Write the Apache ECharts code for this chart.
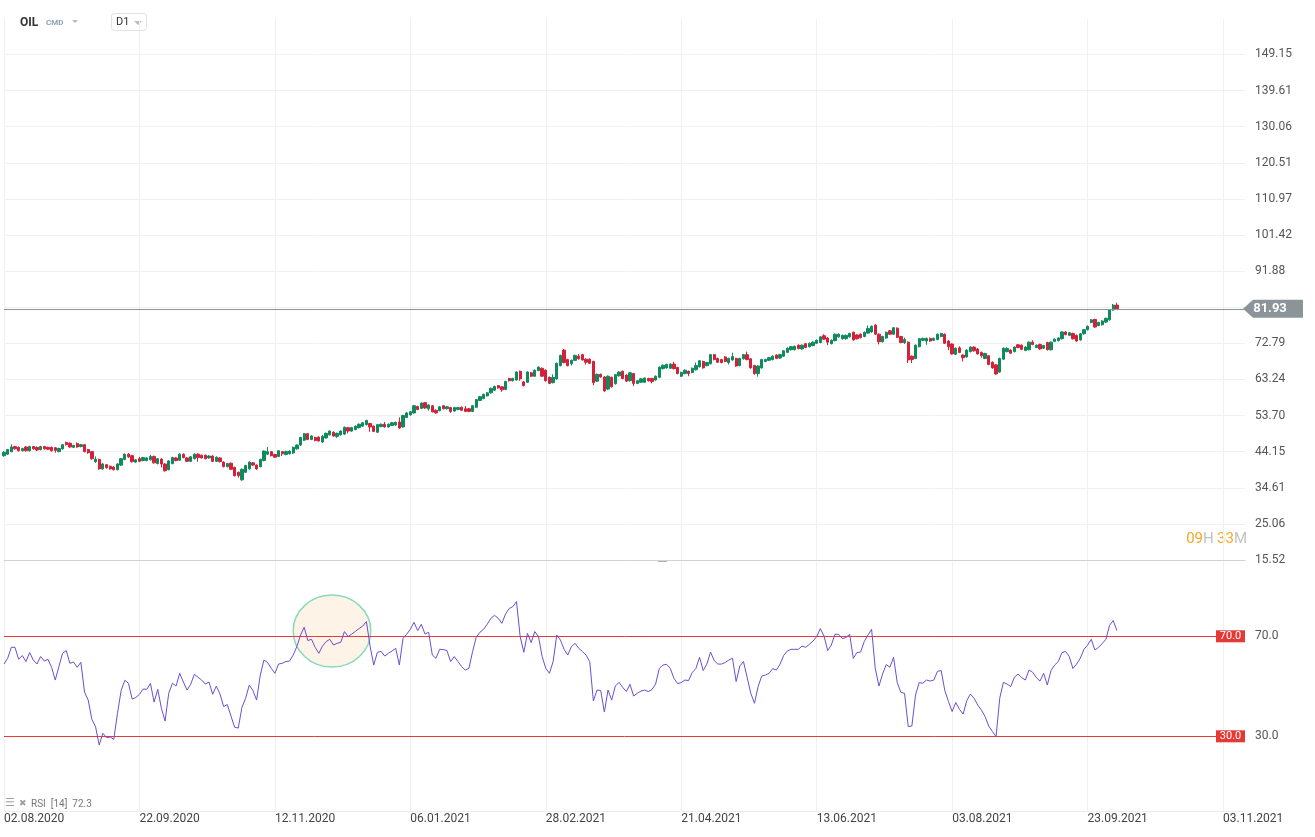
<!DOCTYPE html>
<html>
<head>
<meta charset="utf-8">
<title>OIL D1</title>
<script src="https://cdn.jsdelivr.net/npm/echarts@6/dist/echarts.min.js"></script>
<style>
  html, body { margin: 0; padding: 0; background: #fff; }
  #chart { width: 1315px; height: 837px; }
</style>
</head>
<body>
<div id="chart"></div>
<script>
// x axis: one slot per trading bar, a date label every 37 bars
const tickLabels = ["02.08.2020", "22.09.2020", "12.11.2020", "06.01.2021", "28.02.2021",
  "21.04.2021", "13.06.2021", "03.08.2021", "23.09.2021", "03.11.2021"];
const barsPerTick = 37;
const slotCount = 340;

// price pane
const priceTicks = [15.52, 25.06, 34.61, 44.15, 53.70, 63.24, 72.79, 82.33, 91.88,
  101.42, 110.97, 120.51, 130.06, 139.61, 149.15];
const priceMin = 15.52;
const priceMax = 158.52;
const lastPrice = 81.93;

// daily candles [open, close, low, high]
const candles = [
  [43.1,44.0,42.8,44.3],[43.5,44.7,43.3,44.9],[44.15,45.4,44.0,46.1],[45.5,44.9,44.7,45.7],[45.3,44.4,44.2,45.5],
  [44.4,45.0,44.2,45.2],[45.4,44.4,44.2,45.6],[44.4,45.5,44.2,45.7],[45.5,44.9,44.7,45.7],[45.3,44.6,44.3,45.5],
  [44.7,45.5,44.5,45.7],[45.5,44.9,44.7,45.7],[45.3,44.8,44.6,45.5],[45.3,44.4,44.2,45.5],[45.2,44.5,43.9,45.4],
  [44.15,45.0,44.0,45.2],[44.9,46.0,44.7,46.2],[46.6,46.0,45.8,46.8],[46.4,45.4,45.2,46.6],[45.3,45.8,45.1,46.0],
  [46.3,45.4,45.2,46.6],[45.5,46.0,45.3,46.2],[46.0,44.15,44.0,46.2],[44.7,43.9,43.6,44.9],[44.15,42.3,42.0,44.3],
  [41.5,42.2,41.2,42.9],[42.1,39.6,39.4,42.3],[39.6,40.9,39.4,41.2],[40.7,39.9,39.7,40.9],[40.3,39.6,39.4,40.5],
  [40.1,39.4,39.2,40.3],[39.4,40.9,39.2,41.1],[40.6,42.3,40.4,42.5],[42.1,43.5,41.9,43.7],[43.5,42.8,42.5,43.8],
  [43.1,41.5,41.3,43.3],[41.4,42.0,41.2,42.2],[42.3,41.6,41.4,42.8],[41.8,42.6,41.6,42.8],[41.8,42.5,41.6,42.7],
  [42.0,42.9,41.8,43.3],[42.9,41.2,41.0,43.1],[41.0,42.3,40.8,42.5],[42.2,40.9,40.0,42.4],[40.9,39.1,38.9,41.1],
  [39.4,41.7,39.2,41.9],[41.0,42.6,40.8,42.8],[42.5,41.8,41.6,42.7],[41.9,43.5,41.7,43.7],[43.5,42.6,42.4,43.7],
  [42.5,41.6,41.4,42.7],[41.6,42.8,41.4,43.0],[42.3,43.5,42.1,43.7],[43.5,42.6,41.5,43.7],[43.2,42.5,42.3,43.4],
  [43.2,42.3,42.1,43.4],[42.5,43.0,42.3,43.2],[43.0,41.6,41.4,43.2],[41.6,42.7,41.4,42.9],[42.5,41.5,41.3,42.7],
  [41.4,40.2,40.0,41.6],[40.2,41.0,40.0,41.2],[41.1,39.5,39.3,41.3],[40.0,37.8,37.6,40.2],[38.7,37.8,37.3,38.9],
  [36.7,39.5,36.5,39.7],[38.7,40.5,38.5,40.7],[39.6,41.4,39.4,41.6],[41.2,40.6,40.4,41.4],[40.6,39.6,39.4,40.8],
  [40.2,42.1,40.0,42.3],[41.8,44.3,41.6,44.5],[43.5,44.15,43.3,45.4],[44.15,43.1,42.9,44.3],[43.4,42.7,42.5,43.6],
  [42.9,44.4,42.7,44.6],[44.15,43.6,43.0,44.3],[43.4,44.2,43.2,44.4],[43.6,44.3,43.4,44.5],[43.8,45.3,43.6,45.5],
  [44.9,45.9,44.7,46.1],[45.9,47.9,45.7,48.1],[47.2,48.9,47.0,49.1],[48.9,47.4,47.2,49.1],[47.4,48.3,47.2,48.5],
  [47.9,47.1,46.9,48.1],[48.0,47.0,46.8,48.2],[46.7,48.2,46.5,48.6],[47.8,49.0,47.6,49.2],[48.6,49.6,48.4,49.8],
  [49.3,48.3,48.1,49.5],[48.2,49.0,47.8,49.2],[48.6,49.6,48.4,49.8],[48.8,50.6,48.6,50.8],[50.5,49.6,49.0,50.7],
  [49.6,50.5,49.4,50.7],[50.0,50.9,49.8,51.1],[50.5,51.4,50.3,51.6],[50.9,51.8,50.7,52.0],[51.3,52.4,51.1,52.6],
  [51.6,50.7,49.4,51.8],[50.9,49.5,49.3,51.1],[49.3,51.3,49.1,51.5],[50.8,51.4,50.6,51.6],[51.4,50.7,50.5,52.0],
  [50.7,51.4,50.5,51.6],[51.1,51.8,50.9,52.0],[51.2,51.9,51.0,52.1],[52.0,50.4,50.2,53.2],[50.7,53.7,50.5,53.9],
  [53.2,54.4,53.0,54.6],[53.9,54.7,53.7,54.9],[54.4,56.3,54.2,56.5],[56.1,55.3,55.1,56.3],[55.6,57.0,55.4,57.2],
  [57.1,55.7,55.5,57.3],[55.5,56.5,55.0,56.7],[56.3,54.7,54.5,56.5],[55.1,54.4,54.2,55.3],[55.0,56.0,54.8,56.2],
  [56.3,55.5,55.3,56.5],[55.5,56.0,55.3,56.2],[55.8,54.8,54.4,56.0],[54.9,55.8,54.7,56.0],[55.3,55.8,55.1,56.0],
  [55.9,55.1,54.9,56.1],[55.5,54.8,54.6,56.2],[55.5,54.8,54.6,55.7],[54.8,56.3,54.6,56.5],[55.9,57.9,55.7,58.1],
  [57.7,58.7,57.5,58.9],[58.2,59.3,58.0,59.5],[58.9,59.7,58.7,59.9],[59.7,60.9,59.5,61.1],[60.4,61.4,60.2,61.6],
  [61.6,61.0,60.8,61.8],[61.3,60.5,60.0,61.5],[60.6,62.7,60.4,62.9],[63.5,62.9,62.7,63.7],[62.9,63.5,62.7,63.7],
  [63.1,65.2,62.9,65.4],[65.4,63.4,62.9,65.6],[62.6,61.6,61.4,62.8],[62.5,65.2,62.3,65.4],[65.0,64.1,63.9,65.2],
  [64.1,65.7,63.9,65.9],[65.6,66.5,65.4,66.7],[66.2,64.1,63.9,66.4],[65.7,62.9,62.7,65.9],[63.8,62.2,62.0,64.0],
  [62.4,63.8,62.2,64.6],[63.4,67.5,63.2,67.7],[66.9,69.6,66.7,69.8],[71.0,67.7,67.5,71.3],[68.5,66.9,66.7,68.7],
  [67.4,68.3,66.9,68.5],[68.3,69.6,68.1,69.8],[69.4,68.7,68.5,70.0],[69.8,68.4,68.2,70.0],[68.6,67.8,67.2,68.8],
  [68.6,67.5,67.3,68.8],[68.0,62.4,61.7,68.2],[62.8,64.6,62.6,64.8],[64.6,63.9,63.7,64.8],[63.9,60.2,60.0,64.1],
  [60.7,64.1,60.4,64.3],[63.8,61.3,61.1,64.0],[62.1,64.5,61.9,64.7],[64.2,65.2,64.0,65.4],[65.4,63.5,63.3,65.6],
  [64.4,62.8,62.6,64.6],[62.9,65.0,62.7,65.2],[64.8,62.2,61.5,65.0],[62.2,62.9,62.0,63.1],[62.5,63.4,62.3,63.6],
  [62.5,63.6,62.3,63.8],[63.5,62.9,62.7,63.7],[63.5,62.7,62.2,63.7],[63.1,64.1,62.9,64.3],[63.8,66.5,63.6,66.7],
  [66.1,67.0,65.9,67.2],[66.3,67.2,66.1,67.4],[66.2,67.3,66.0,67.5],[67.3,66.1,65.9,67.9],[66.4,64.8,64.6,66.6],
  [64.1,65.1,63.9,65.3],[64.8,65.7,64.6,65.9],[65.4,64.8,64.1,65.6],[65.1,66.2,64.9,66.4],[65.8,66.9,65.6,67.7],
  [66.6,68.2,66.4,68.4],[68.0,66.3,66.1,68.2],[66.9,67.7,66.7,67.9],[67.4,69.8,67.2,70.0],[69.8,68.5,68.3,70.0],
  [68.8,67.8,67.6,69.0],[68.5,67.7,67.5,68.7],[69.2,68.0,67.8,69.4],[67.7,68.8,67.2,69.0],[68.4,69.3,68.2,70.3],
  [68.8,66.8,66.6,69.0],[66.9,68.8,66.7,69.0],[68.7,69.8,68.5,70.0],[69.8,68.5,68.3,70.6],[68.7,66.3,66.1,68.9],
  [66.9,64.8,64.5,67.1],[64.8,66.8,64.0,67.0],[66.3,68.5,66.1,68.7],[68.0,68.5,67.8,68.7],[68.3,69.0,68.1,69.2],
  [68.5,69.4,68.3,69.6],[69.7,68.8,68.6,69.9],[68.9,69.8,68.7,70.0],[69.4,70.8,69.2,71.0],[70.4,71.5,70.2,71.7],
  [71.1,71.9,70.9,72.1],[71.1,72.0,70.9,72.2],[72.3,71.4,71.2,72.5],[71.3,72.3,71.1,72.5],[72.7,71.7,71.5,72.9],
  [71.9,72.8,71.7,73.0],[72.2,73.1,72.0,73.3],[72.8,73.6,72.6,73.8],[73.0,74.5,72.8,74.7],[74.8,73.9,73.7,75.2],
  [74.2,73.1,72.3,74.4],[72.7,73.6,72.5,73.8],[73.5,75.2,73.3,75.4],[74.5,75.2,74.3,75.4],[74.0,74.9,73.8,75.1],
  [74.0,74.9,73.8,75.1],[74.5,75.4,74.3,75.6],[75.7,73.7,73.5,75.9],[75.0,74.0,73.8,75.2],[75.2,74.3,74.1,75.4],
  [74.6,75.7,74.4,75.9],[75.5,76.7,75.3,77.5],[75.8,77.3,75.6,77.5],[77.6,75.2,75.0,77.9],[75.2,73.2,72.5,75.4],
  [73.2,74.6,73.0,74.8],[74.2,75.7,74.0,75.9],[76.1,75.2,75.0,76.3],[75.2,76.9,75.0,77.1],[76.8,74.4,74.2,77.0],
  [74.6,73.0,72.8,74.8],[73.0,73.8,72.6,74.3],[73.1,68.4,67.6,73.3],[69.4,68.5,67.6,69.6],[68.8,72.3,68.6,72.5],
  [71.9,74.0,71.7,74.2],[73.6,74.1,73.4,74.3],[73.4,74.1,72.4,74.3],[74.1,73.4,73.2,74.3],[73.6,74.1,73.4,74.3],
  [73.8,75.2,73.6,75.4],[74.6,75.4,74.4,75.6],[75.2,72.8,72.6,75.4],[73.4,71.9,71.0,73.6],[72.6,70.0,69.8,72.8],
  [69.9,71.5,69.7,71.7],[71.6,70.4,70.2,72.0],[69.7,69.0,68.0,69.9],[69.2,71.0,69.0,71.2],[70.6,71.8,70.4,72.0],
  [71.8,70.8,70.6,72.0],[71.3,70.0,69.8,71.5],[70.4,69.5,69.0,70.6],[68.8,70.1,68.6,70.3],[69.5,67.2,67.0,69.7],
  [67.8,66.3,66.1,68.0],[67.1,64.7,64.5,67.3],[65.2,68.8,65.0,69.0],[68.6,71.5,68.4,71.7],[70.6,71.4,70.4,71.8],
  [71.0,70.2,70.0,71.2],[70.6,71.8,70.4,72.0],[72.4,71.7,71.5,72.6],[72.3,71.2,71.0,72.5],[70.9,71.8,70.7,72.0],
  [71.1,73.1,70.9,73.3],[73.1,72.5,72.3,73.6],[71.7,72.3,71.5,72.5],[72.5,71.3,71.1,72.7],[71.5,72.2,71.3,72.4],
  [73.0,71.1,70.9,73.2],[71.1,73.1,70.9,73.3],[73.3,73.9,73.1,74.1],[73.5,74.2,73.3,74.4],[74.0,75.8,73.8,76.0],
  [75.8,75.1,74.9,76.0],[74.9,75.6,74.7,75.8],[75.4,74.0,73.8,75.6],[74.9,73.4,73.2,75.1],[73.7,75.3,73.5,75.5],
  [75.3,76.4,75.1,76.6],[76.4,77.3,76.2,77.5],[78.3,79.0,78.1,79.2],[79.1,77.1,76.9,79.3],[77.5,78.3,77.3,78.5],
  [77.7,78.7,77.5,78.9],[78.4,79.4,78.2,79.6],[79.0,81.6,78.8,81.8],[81.6,82.9,81.4,83.2],[82.9,81.93,81.7,83.5]
];

// RSI(14) pane
const rsiLevels = [70, 30];
const rsiLast = 72.3;
const rsi = [
  58.9,61.2,65.6,65.6,60.8,62.3,59.9,63.5,60.5,58.9,61.9,60.1,60.8,57.6,52.5,57.9,63.2,64.3,59.2,59.7,
  57.6,59.6,47.7,44.5,36.8,33.9,26.5,31.2,29.5,29.7,28.8,39.2,48.3,52.4,51.2,44.9,45.5,46.8,48.9,48.8,
  51.2,43.7,48.8,41.2,36.1,47.2,51.2,50.1,55.2,51.7,48.5,50.8,54.8,53.6,52.5,50.9,51.7,46.8,50.1,46.9,
  41.9,42.7,38.1,33.6,33.3,41.6,45.2,50.5,48.3,44.5,54.4,60.5,59.5,57.2,55.2,58.9,59.2,59.9,60.1,62.5,
  65.9,70.5,73.6,68.3,68.8,65.6,63.2,66.1,67.9,68.8,66.5,67.2,67.6,71.9,69.9,70.9,72.0,73.1,74.1,75.9,
  66.1,58.5,63.6,64.0,62.1,63.2,64.1,65.2,58.5,69.2,70.8,72.8,75.6,72.3,74.8,70.9,71.6,62.5,61.2,64.8,
  64.7,64.3,59.9,61.9,59.9,57.9,56.5,57.2,63.9,69.6,71.6,72.8,74.8,77.2,78.4,77.2,75.2,78.9,81.1,81.9,
  83.9,69.9,63.6,71.2,67.5,71.9,69.9,61.9,57.2,55.2,59.9,70.5,68.5,64.8,62.5,65.9,67.2,65.2,63.9,62.5,
  59.9,44.1,48.5,48.3,39.7,48.5,44.5,50.1,51.6,49.6,47.9,50.8,46.1,47.2,48.1,48.5,47.9,48.7,50.9,57.1,
  58.5,58.8,57.2,53.2,51.1,51.5,52.5,52.3,55.5,57.1,61.6,56.3,58.9,63.7,60.3,58.9,58.9,59.5,60.5,61.2,
  51.9,58.1,59.9,53.6,47.2,43.2,49.9,54.1,54.5,55.2,57.1,56.5,58.9,62.4,64.1,64.8,64.8,64.8,66.1,65.6,
  66.8,68.1,69.9,73.1,70.1,64.3,66.5,70.8,70.8,69.1,69.5,70.8,61.2,63.5,63.7,67.9,70.5,72.8,57.2,50.1,
  54.9,58.7,57.6,61.6,51.5,47.6,47.2,33.9,34.1,46.5,51.5,51.2,52.5,52.1,52.5,56.0,56.3,48.3,43.9,39.9,
  43.5,40.8,38.9,44.3,46.9,45.2,42.5,40.5,37.9,34.1,31.9,29.9,45.2,51.6,50.9,49.9,53.6,54.9,53.5,52.5,
  56.5,55.6,53.5,52.1,55.2,50.5,56.3,58.5,59.9,63.5,63.9,61.9,57.1,58.9,61.2,64.8,66.5,68.8,64.5,65.6,
  67.1,68.8,74.4,76.3,72.3
];

// circled area in the RSI pane: centre (bar index, RSI) and half-spans
const highlight = { index: 89.6, value: 72.1, spanBars: 10.6, spanValue: 14.4 };

const categories = Array.from({ length: slotCount }, (_, i) => String(i));

const GREEN = "#0f8a5c";
const RED = "#d3213a";
const GRID = "#f0f0f0";
const FONT = "Roboto, 'Noto Sans', sans-serif";

const chart = echarts.init(document.getElementById("chart"));

const option = {
  animation: false,
  backgroundColor: "#fff",
  textStyle: { fontFamily: FONT },
  grid: [
    { left: 4, right: 70, top: 19, height: 541 },
    { left: 4, right: 70, top: 561.3, height: 250 },
  ],
  xAxis: [
    {
      gridIndex: 0,
      type: "category",
      data: categories,
      boundaryGap: false,
      axisLine: { show: true, lineStyle: { color: "#d2d2d2" } },
      axisTick: { show: false },
      axisLabel: { show: false },
      splitLine: { show: true, interval: barsPerTick - 1, lineStyle: { color: GRID } },
    },
    {
      gridIndex: 1,
      type: "category",
      data: categories,
      boundaryGap: false,
      axisLine: { show: true, lineStyle: { color: "#ececec" } },
      axisTick: { show: false },
      axisLabel: {
        show: true,
        interval: barsPerTick - 1,
        align: "left",
        margin: 2,
        color: "#444",
        fontSize: 12,
        fontFamily: FONT,
        formatter: (value, index) => tickLabels[index / barsPerTick] || "",
      },
      splitLine: { show: true, interval: barsPerTick - 1, lineStyle: { color: GRID } },
    },
  ],
  yAxis: [
    {
      gridIndex: 0,
      type: "value",
      position: "right",
      min: priceMin,
      max: priceMax,
      axisLine: { show: false },
      axisTick: { show: false, customValues: priceTicks },
      axisLabel: {
        customValues: priceTicks,
        formatter: (v) => v.toFixed(2),
        align: "left",
        margin: 10,
        color: "#555",
        fontSize: 12,
        fontFamily: FONT,
      },
      splitLine: { show: true, lineStyle: { color: GRID } },
    },
    {
      gridIndex: 1,
      type: "value",
      position: "right",
      min: 0,
      max: 100,
      axisLine: { show: false },
      axisTick: { show: false, customValues: rsiLevels },
      axisLabel: {
        customValues: rsiLevels,
        formatter: (v) => v.toFixed(1),
        align: "left",
        margin: 10,
        color: "#555",
        fontSize: 12,
        fontFamily: FONT,
      },
      splitLine: { show: false },
    },
  ],
  series: [
    {
      name: "OIL",
      type: "candlestick",
      xAxisIndex: 0,
      yAxisIndex: 0,
      data: candles,
      barWidth: 2.8,
      clip: false,
      itemStyle: { color: GREEN, color0: RED, borderColor: GREEN, borderColor0: RED, borderWidth: 1 },
      markLine: {
        silent: true,
        symbol: "none",
        label: { show: false },
        lineStyle: { color: "#8a9599", width: 1, type: "solid" },
        data: [{ yAxis: lastPrice }],
      },
    },
    {
      // price tag on the right axis
      type: "custom",
      xAxisIndex: 0,
      yAxisIndex: 0,
      clip: false,
      silent: true,
      z: 10,
      data: [[0, lastPrice]],
      renderItem: (params, api) => {
        const y = api.coord([0, api.value(1)])[1];
        const r = params.coordSys.x + params.coordSys.width;
        return {
          type: "group",
          children: [
            {
              type: "polygon",
              shape: { points: [[r - 2, y], [r + 8, y - 9], [r + 58, y - 9], [r + 58, y + 9], [r + 8, y + 9]] },
              style: { fill: "#8a9499" },
            },
            {
              type: "text",
              style: {
                text: api.value(1).toFixed(2), x: r + 25, y: y,
                align: "center", verticalAlign: "middle",
                fill: "#fff", font: "bold 13px Roboto, sans-serif",
              },
            },
          ],
        };
      },
    },
    {
      // circled zone
      type: "custom",
      xAxisIndex: 1,
      yAxisIndex: 1,
      silent: true,
      clip: false,
      z: 1,
      data: [[highlight.index, highlight.value]],
      renderItem: (params, api) => {
        const i0 = Math.floor(highlight.index);
        const a = api.coord([i0, highlight.value]);
        const step = api.coord([i0 + 1, highlight.value])[0] - a[0];
        const cx = a[0] + (highlight.index - i0) * step;
        const cy = a[1];
        const ry = cy - api.coord([i0, highlight.value + highlight.spanValue])[1];
        return {
          type: "ellipse",
          shape: { cx: cx, cy: cy, rx: highlight.spanBars * step, ry: ry },
          style: { fill: "#fdf3e7", stroke: "#86dbb9", lineWidth: 1.5 },
        };
      },
    },
    {
      name: "RSI",
      type: "line",
      xAxisIndex: 1,
      yAxisIndex: 1,
      data: rsi,
      showSymbol: false,
      symbol: "none",
      clip: false,
      z: 5,
      lineStyle: { color: "#6b4fd1", width: 1 },
      markLine: {
        silent: true,
        symbol: "none",
        label: { show: false },
        lineStyle: { color: "#e8393b", width: 1, type: "solid" },
        data: rsiLevels.map((v) => ({ yAxis: v })),
      },
    },
    {
      // red level tags at the right end of the RSI lines
      type: "custom",
      xAxisIndex: 1,
      yAxisIndex: 1,
      silent: true,
      clip: false,
      z: 10,
      data: rsiLevels.map((v) => [0, v]),
      renderItem: (params, api) => {
        const y = api.coord([0, api.value(1)])[1];
        const r = params.coordSys.x + params.coordSys.width;
        return {
          type: "group",
          children: [
            { type: "rect", shape: { x: r - 29, y: y - 6, width: 29, height: 12 }, style: { fill: "#e53935" } },
            {
              type: "text",
              style: {
                text: api.value(1).toFixed(1), x: r - 14.5, y: y,
                align: "center", verticalAlign: "middle",
                fill: "#fff", font: "11px Roboto, sans-serif",
              },
            },
          ],
        };
      },
    },
  ],
  graphic: [
    { type: "text", left: 20, top: 17, style: { text: "OIL", fill: "#333", font: "bold 12px Roboto, sans-serif" } },
    { type: "text", left: 46, top: 19, style: { text: "CMD", fill: "#8fa3b5", font: "bold 8px Roboto, sans-serif" } },
    { type: "polygon", shape: { points: [[72, 20], [78, 20], [75, 23]] }, style: { fill: "#bbb" } },
    {
      type: "rect", shape: { x: 111.5, y: 13.5, width: 35, height: 17, r: 3 },
      style: { fill: "#fff", stroke: "#e2e2e2", lineWidth: 1 },
    },
    { type: "text", left: 116, top: 17, style: { text: "D1", fill: "#333", font: "11px Roboto, sans-serif" } },
    { type: "polygon", shape: { points: [[134, 21], [142, 21], [138, 25]] }, style: { fill: "#bbb" } },
    {
      type: "text", right: 68, top: 532,
      style: {
        text: "{o|09}{g|H} {o|33}{g|M}",
        rich: {
          o: { fill: "#f5a623", font: "15px Roboto, sans-serif" },
          g: { fill: "#c2c2c2", font: "15px Roboto, sans-serif" },
        },
      },
    },
    { type: "rect", shape: { x: 658, y: 560.5, width: 9, height: 1.5 }, style: { fill: "#b0b0b0" } },
    { type: "text", left: 5, top: 798, style: { text: "\u2630", fill: "#a0a0a0", font: "11px 'DejaVu Sans', sans-serif" } },
    { type: "text", left: 19, top: 799, style: { text: "\u2716", fill: "#a0a0a0", font: "9px 'DejaVu Sans', sans-serif" } },
    {
      type: "text", left: 31, top: 799,
      style: { text: "RSI  [14]  " + rsiLast.toFixed(1), fill: "#777", font: "10px Roboto, sans-serif" },
    },
  ],
};

chart.setOption(option);

window.addEventListener("resize", function () {
  chart.resize();
});
</script>
</body>
</html>
